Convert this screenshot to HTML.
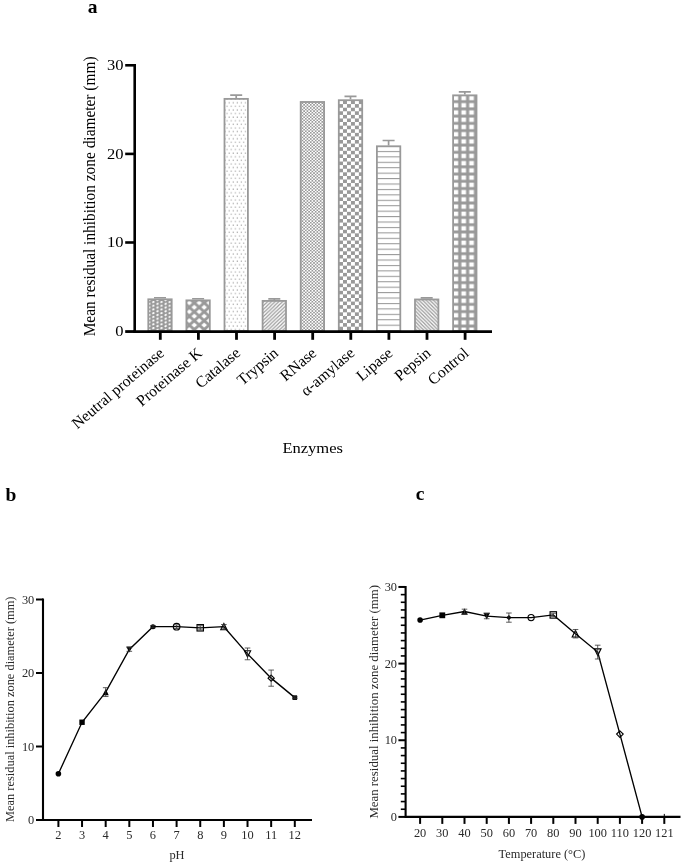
<!DOCTYPE html>
<html><head><meta charset="utf-8"><title>Figure</title>
<style>html,body{margin:0;padding:0;background:#fff;}svg{display:block;will-change:transform;opacity:0.9999;}text{font-family:"Liberation Serif",serif;}</style>
</head><body>
<svg width="685" height="865" viewBox="0 0 685 865">
<rect width="685" height="865" fill="#fff"/>
<defs>
<pattern id="p1" x="151.36" y="300.97" width="8.15" height="3.72" patternUnits="userSpaceOnUse"><rect width="8.15" height="3.72" fill="#999999"/><path d="M1.05 1.6 L3.0 0.35 M5.12 3.46 L7.07 2.21 M5.12 -0.26 L7.07 -1.51" stroke="#fff" stroke-width="1.75"/></pattern>
<pattern id="p2" x="189.35" y="307.3" width="9.9" height="8.9" patternUnits="userSpaceOnUse"><rect width="9.9" height="8.9" fill="#fff"/><path d="M-1 -0.9 L10.9 9.8 M10.9 -0.9 L-1 9.8" stroke="#999999" stroke-width="2.8"/></pattern>
<pattern id="p3" x="224.0" y="281.7" width="4.1" height="7.2" patternUnits="userSpaceOnUse"><rect width="4.1" height="7.2" fill="#fff"/><rect x="0.5" y="0.5" width="1.15" height="1.15" fill="#a2a2a2"/><rect x="2.55" y="4.1" width="1.15" height="1.15" fill="#a2a2a2"/></pattern>
<pattern id="p4" x="0.6" y="0" width="3.75" height="3.6" patternUnits="userSpaceOnUse"><rect width="3.75" height="3.6" fill="#fff"/><path d="M-3.75 3.6 L3.75 -3.6 M0 3.6 L3.75 0 L7.5 -3.6 M0 7.2 L7.5 0" stroke="#999999" stroke-width="1.15"/></pattern>
<pattern id="p5" x="300" y="101" width="3.3" height="3.1" patternUnits="userSpaceOnUse"><rect width="3.3" height="3.1" fill="#fff"/><rect width="1.65" height="1.55" fill="#999999"/><rect x="1.65" y="1.55" width="1.65" height="1.55" fill="#999999"/></pattern>
<pattern id="p6" x="343.0" y="107.7" width="7.94" height="7.18" patternUnits="userSpaceOnUse"><rect width="7.94" height="7.18" fill="#fff"/><rect width="3.97" height="3.59" fill="#999999"/><rect x="3.97" y="3.59" width="3.97" height="3.59" fill="#999999"/></pattern>
<pattern id="p7" x="0" y="330.1" width="4" height="5.43" patternUnits="userSpaceOnUse"><rect width="4" height="5.43" fill="#fff"/><rect y="0" width="4" height="1.05" fill="#999999"/></pattern>
<pattern id="p8" x="0" y="0" width="3.6" height="3.6" patternUnits="userSpaceOnUse"><rect width="3.6" height="3.6" fill="#fff"/><path d="M-3.6 -3.6 L7.2 7.2 M0 -3.6 L7.2 3.6 M-3.6 0 L3.6 7.2" stroke="#999999" stroke-width="1.25"/></pattern>
<pattern id="p9" x="459.78" y="289.88" width="7.85" height="7.24" patternUnits="userSpaceOnUse"><rect width="7.85" height="7.24" fill="#999999"/><rect x="1.6" y="1.45" width="4.65" height="4.35" fill="#fff"/></pattern>
</defs>
<text transform="translate(87.80 12.80)" font-size="19.5" text-anchor="start" fill="#000" font-weight="bold">a</text>
<path d="M160.00 298.40 V297.77 M154.00 297.77 H166.00" stroke="#999999" stroke-width="1.7" fill="none"/>
<rect x="148.30" y="299.30" width="23.40" height="31.70" fill="url(#p1)" stroke="#999999" stroke-width="1.8"/>
<path d="M198.10 299.46 V298.75 M192.10 298.75 H204.10" stroke="#999999" stroke-width="1.7" fill="none"/>
<rect x="186.40" y="300.36" width="23.40" height="30.64" fill="url(#p2)" stroke="#999999" stroke-width="1.8"/>
<path d="M236.20 97.98 V95.06 M230.20 95.06 H242.20" stroke="#999999" stroke-width="1.7" fill="none"/>
<rect x="224.50" y="98.88" width="23.40" height="232.12" fill="url(#p3)" stroke="#999999" stroke-width="1.8"/>
<path d="M274.30 299.99 V298.93 M268.30 298.93 H280.30" stroke="#999999" stroke-width="1.7" fill="none"/>
<rect x="262.60" y="300.89" width="23.40" height="30.11" fill="url(#p4)" stroke="#999999" stroke-width="1.8"/>
<rect x="300.70" y="101.98" width="23.40" height="229.02" fill="url(#p5)" stroke="#999999" stroke-width="1.8"/>
<path d="M350.50 99.31 V96.39 M344.50 96.39 H356.50" stroke="#999999" stroke-width="1.7" fill="none"/>
<rect x="338.80" y="100.21" width="23.40" height="230.79" fill="url(#p6)" stroke="#999999" stroke-width="1.8"/>
<path d="M388.60 145.38 V140.51 M382.60 140.51 H394.60" stroke="#999999" stroke-width="1.7" fill="none"/>
<rect x="376.90" y="146.28" width="23.40" height="184.72" fill="url(#p7)" stroke="#999999" stroke-width="1.8"/>
<path d="M426.70 298.57 V297.86 M420.70 297.86 H432.70" stroke="#999999" stroke-width="1.7" fill="none"/>
<rect x="415.00" y="299.47" width="23.40" height="31.53" fill="url(#p8)" stroke="#999999" stroke-width="1.8"/>
<path d="M464.80 94.44 V91.78 M458.80 91.78 H470.80" stroke="#999999" stroke-width="1.7" fill="none"/>
<rect x="453.10" y="95.34" width="23.40" height="235.66" fill="url(#p9)" stroke="#999999" stroke-width="1.8"/>
<path d="M134.7 64.00 V332.60" stroke="#000" stroke-width="2.6" fill="none"/>
<path d="M133.39999999999998 331.55 H492" stroke="#000" stroke-width="2.8" fill="none"/>
<path d="M125.19999999999999 331.55 H134.7" stroke="#000" stroke-width="2.8"/>
<text transform="translate(123.40 336.00) scale(1.1 1.0)" font-size="15.0" text-anchor="end" fill="#000">0</text>
<path d="M125.19999999999999 242.50 H134.7" stroke="#000" stroke-width="2.6"/>
<text transform="translate(123.40 247.40) scale(1.1 1.0)" font-size="15.0" text-anchor="end" fill="#000">10</text>
<path d="M125.19999999999999 153.90 H134.7" stroke="#000" stroke-width="2.6"/>
<text transform="translate(123.40 158.80) scale(1.1 1.0)" font-size="15.0" text-anchor="end" fill="#000">20</text>
<path d="M125.19999999999999 65.30 H134.7" stroke="#000" stroke-width="2.6"/>
<text transform="translate(123.40 70.20) scale(1.1 1.0)" font-size="15.0" text-anchor="end" fill="#000">30</text>
<path d="M160.30 331.0 V339.8" stroke="#000" stroke-width="2.8"/>
<path d="M198.40 331.0 V339.8" stroke="#000" stroke-width="2.8"/>
<path d="M236.50 331.0 V339.8" stroke="#000" stroke-width="2.8"/>
<path d="M274.60 331.0 V339.8" stroke="#000" stroke-width="2.8"/>
<path d="M312.70 331.0 V339.8" stroke="#000" stroke-width="2.8"/>
<path d="M350.80 331.0 V339.8" stroke="#000" stroke-width="2.8"/>
<path d="M388.90 331.0 V339.8" stroke="#000" stroke-width="2.8"/>
<path d="M427.00 331.0 V339.8" stroke="#000" stroke-width="2.8"/>
<path d="M465.10 331.0 V339.8" stroke="#000" stroke-width="2.8"/>
<text transform="translate(165.00 354.60) rotate(-40.5)" font-size="15.7" text-anchor="end" fill="#000">Neutral proteinase</text>
<text transform="translate(203.10 354.60) rotate(-40.5)" font-size="15.7" text-anchor="end" fill="#000">Proteinase K</text>
<text transform="translate(241.20 354.60) rotate(-40.5)" font-size="15.7" text-anchor="end" fill="#000">Catalase</text>
<text transform="translate(279.30 354.60) rotate(-40.5)" font-size="15.7" text-anchor="end" fill="#000">Trypsin</text>
<text transform="translate(317.40 354.60) rotate(-40.5)" font-size="15.7" text-anchor="end" fill="#000">RNase</text>
<text transform="translate(355.50 354.60) rotate(-40.5)" font-size="15.7" text-anchor="end" fill="#000">α-amylase</text>
<text transform="translate(393.60 354.60) rotate(-40.5)" font-size="15.7" text-anchor="end" fill="#000">Lipase</text>
<text transform="translate(431.70 354.60) rotate(-40.5)" font-size="15.7" text-anchor="end" fill="#000">Pepsin</text>
<text transform="translate(469.80 354.60) rotate(-40.5)" font-size="15.7" text-anchor="end" fill="#000">Control</text>
<text transform="translate(94.80 196.40) scale(1.1 1.0) rotate(-90)" font-size="15.4" text-anchor="middle" fill="#000">Mean residual inhibition zone diameter (mm)</text>
<text transform="translate(312.70 453.30) scale(1.09 1.0)" font-size="15.2" text-anchor="middle" fill="#000">Enzymes</text>
<text transform="translate(5.40 500.80)" font-size="19.5" text-anchor="start" fill="#000" font-weight="bold">b</text>
<path d="M43.0 598.50 V821.00 M42.0 820.0 H312" stroke="#000" stroke-width="2.1" fill="none"/>
<path d="M36.0 820.00 H43.0" stroke="#000" stroke-width="2.0"/>
<text x="34.3" y="824.00" font-size="12.4" text-anchor="end" fill="#2a2a2a">0</text>
<path d="M36.0 746.50 H43.0" stroke="#000" stroke-width="2.0"/>
<text x="34.3" y="750.50" font-size="12.4" text-anchor="end" fill="#2a2a2a">10</text>
<path d="M36.0 673.00 H43.0" stroke="#000" stroke-width="2.0"/>
<text x="34.3" y="677.00" font-size="12.4" text-anchor="end" fill="#2a2a2a">20</text>
<path d="M36.0 599.50 H43.0" stroke="#000" stroke-width="2.0"/>
<text x="34.3" y="603.50" font-size="12.4" text-anchor="end" fill="#2a2a2a">30</text>
<path d="M58.40 820.0 V827.0" stroke="#000" stroke-width="2.0"/>
<text x="58.40" y="839.1" font-size="12.4" text-anchor="middle" fill="#2a2a2a">2</text>
<path d="M82.04 820.0 V827.0" stroke="#000" stroke-width="2.0"/>
<text x="82.04" y="839.1" font-size="12.4" text-anchor="middle" fill="#2a2a2a">3</text>
<path d="M105.68 820.0 V827.0" stroke="#000" stroke-width="2.0"/>
<text x="105.68" y="839.1" font-size="12.4" text-anchor="middle" fill="#2a2a2a">4</text>
<path d="M129.32 820.0 V827.0" stroke="#000" stroke-width="2.0"/>
<text x="129.32" y="839.1" font-size="12.4" text-anchor="middle" fill="#2a2a2a">5</text>
<path d="M152.96 820.0 V827.0" stroke="#000" stroke-width="2.0"/>
<text x="152.96" y="839.1" font-size="12.4" text-anchor="middle" fill="#2a2a2a">6</text>
<path d="M176.60 820.0 V827.0" stroke="#000" stroke-width="2.0"/>
<text x="176.60" y="839.1" font-size="12.4" text-anchor="middle" fill="#2a2a2a">7</text>
<path d="M200.24 820.0 V827.0" stroke="#000" stroke-width="2.0"/>
<text x="200.24" y="839.1" font-size="12.4" text-anchor="middle" fill="#2a2a2a">8</text>
<path d="M223.88 820.0 V827.0" stroke="#000" stroke-width="2.0"/>
<text x="223.88" y="839.1" font-size="12.4" text-anchor="middle" fill="#2a2a2a">9</text>
<path d="M247.52 820.0 V827.0" stroke="#000" stroke-width="2.0"/>
<text x="247.52" y="839.1" font-size="12.4" text-anchor="middle" fill="#2a2a2a">10</text>
<path d="M271.16 820.0 V827.0" stroke="#000" stroke-width="2.0"/>
<text x="271.16" y="839.1" font-size="12.4" text-anchor="middle" fill="#2a2a2a">11</text>
<path d="M294.80 820.0 V827.0" stroke="#000" stroke-width="2.0"/>
<text x="294.80" y="839.1" font-size="12.4" text-anchor="middle" fill="#2a2a2a">12</text>
<text transform="translate(14.3 709.25) rotate(-90)" font-size="12.4" text-anchor="middle" fill="#2a2a2a">Mean residual inhibition zone diameter (mm)</text>
<text x="177" y="859.2" font-size="12.4" text-anchor="middle" fill="#2a2a2a">pH</text>
<polyline points="58.40,773.70 82.04,722.25 105.68,692.11 129.32,649.48 152.96,626.69 176.60,626.69 200.24,627.80 223.88,626.69 247.52,653.89 271.16,678.14 294.80,697.62" fill="none" stroke="#000" stroke-width="1.35"/>
<circle cx="58.40" cy="773.70" r="2.80" fill="#000"/>
<rect x="79.34" y="719.54" width="5.40" height="5.40" fill="#000"/>
<path d="M105.68 689.01 L108.78 695.21 H102.58 Z" fill="#000"/>
<path d="M105.68 687.70 V696.52 M102.88 687.70 H108.48 M102.88 696.52 H108.48" stroke="#333" stroke-width="0.8" fill="none"/>
<path d="M129.32 652.58 L132.42 646.38 H126.22 Z" fill="#000"/>
<path d="M129.32 647.64 V651.32 M126.52 647.64 H132.12 M126.52 651.32 H132.12" stroke="#333" stroke-width="0.8" fill="none"/>
<circle cx="152.96" cy="626.69" r="2.5" fill="#000"/>
<path d="M152.96 625.59 V627.80 M150.16 625.59 H155.76 M150.16 627.80 H155.76" stroke="#333" stroke-width="0.8" fill="none"/>
<circle cx="176.60" cy="626.69" r="3.30" fill="none" stroke="#000" stroke-width="1.15"/>
<path d="M176.60 624.86 V628.53 M173.80 624.86 H179.40 M173.80 628.53 H179.40" stroke="#333" stroke-width="0.8" fill="none"/>
<rect x="197.04" y="624.60" width="6.40" height="6.40" fill="none" stroke="#000" stroke-width="1.15"/>
<path d="M200.24 625.74 V629.86 M197.44 625.74 H203.04 M197.44 629.86 H203.04" stroke="#333" stroke-width="0.8" fill="none"/>
<path d="M223.88 623.59 L226.98 629.79 H220.78 Z" fill="none" stroke="#000" stroke-width="1.15"/>
<path d="M223.88 624.49 V628.90 M221.08 624.49 H226.68 M221.08 628.90 H226.68" stroke="#333" stroke-width="0.8" fill="none"/>
<path d="M247.52 656.99 L250.62 650.79 H244.42 Z" fill="none" stroke="#000" stroke-width="1.15"/>
<path d="M247.52 648.01 V659.77 M244.72 648.01 H250.32 M244.72 659.77 H250.32" stroke="#333" stroke-width="0.8" fill="none"/>
<path d="M271.16 675.04 L274.26 678.14 L271.16 681.25 L268.06 678.14 Z" fill="none" stroke="#000" stroke-width="1.15"/>
<path d="M271.16 670.06 V686.23 M268.36 670.06 H273.96 M268.36 686.23 H273.96" stroke="#333" stroke-width="0.8" fill="none"/>
<rect x="292.50" y="695.32" width="4.6" height="4.6" fill="#000"/>
<path d="M294.80 696.89 V698.36 M292.00 696.89 H297.60 M292.00 698.36 H297.60" stroke="#333" stroke-width="0.8" fill="none"/>
<text transform="translate(415.80 500.20)" font-size="19.5" text-anchor="start" fill="#000" font-weight="bold">c</text>
<path d="M405.6 585.95 V817.90 M404.6 816.9 H680.5" stroke="#000" stroke-width="2.1" fill="none"/>
<path d="M398.40000000000003 816.90 H405.6" stroke="#000" stroke-width="2.0"/>
<text transform="translate(397.00 821.10) scale(0.96 1.0)" font-size="12.9" text-anchor="end" fill="#2a2a2a">0</text>
<path d="M400.8 809.24 H405.6" stroke="#000" stroke-width="1.6"/>
<path d="M400.8 801.57 H405.6" stroke="#000" stroke-width="1.6"/>
<path d="M400.8 793.90 H405.6" stroke="#000" stroke-width="1.6"/>
<path d="M400.8 786.24 H405.6" stroke="#000" stroke-width="1.6"/>
<path d="M400.8 778.57 H405.6" stroke="#000" stroke-width="1.6"/>
<path d="M400.8 770.91 H405.6" stroke="#000" stroke-width="1.6"/>
<path d="M400.8 763.25 H405.6" stroke="#000" stroke-width="1.6"/>
<path d="M400.8 755.58 H405.6" stroke="#000" stroke-width="1.6"/>
<path d="M400.8 747.91 H405.6" stroke="#000" stroke-width="1.6"/>
<path d="M398.40000000000003 740.25 H405.6" stroke="#000" stroke-width="2.0"/>
<text transform="translate(397.00 744.45) scale(0.96 1.0)" font-size="12.9" text-anchor="end" fill="#2a2a2a">10</text>
<path d="M400.8 732.59 H405.6" stroke="#000" stroke-width="1.6"/>
<path d="M400.8 724.92 H405.6" stroke="#000" stroke-width="1.6"/>
<path d="M400.8 717.25 H405.6" stroke="#000" stroke-width="1.6"/>
<path d="M400.8 709.59 H405.6" stroke="#000" stroke-width="1.6"/>
<path d="M400.8 701.92 H405.6" stroke="#000" stroke-width="1.6"/>
<path d="M400.8 694.26 H405.6" stroke="#000" stroke-width="1.6"/>
<path d="M400.8 686.60 H405.6" stroke="#000" stroke-width="1.6"/>
<path d="M400.8 678.93 H405.6" stroke="#000" stroke-width="1.6"/>
<path d="M400.8 671.26 H405.6" stroke="#000" stroke-width="1.6"/>
<path d="M398.40000000000003 663.60 H405.6" stroke="#000" stroke-width="2.0"/>
<text transform="translate(397.00 667.80) scale(0.96 1.0)" font-size="12.9" text-anchor="end" fill="#2a2a2a">20</text>
<path d="M400.8 655.93 H405.6" stroke="#000" stroke-width="1.6"/>
<path d="M400.8 648.27 H405.6" stroke="#000" stroke-width="1.6"/>
<path d="M400.8 640.61 H405.6" stroke="#000" stroke-width="1.6"/>
<path d="M400.8 632.94 H405.6" stroke="#000" stroke-width="1.6"/>
<path d="M400.8 625.27 H405.6" stroke="#000" stroke-width="1.6"/>
<path d="M400.8 617.61 H405.6" stroke="#000" stroke-width="1.6"/>
<path d="M400.8 609.94 H405.6" stroke="#000" stroke-width="1.6"/>
<path d="M400.8 602.28 H405.6" stroke="#000" stroke-width="1.6"/>
<path d="M400.8 594.62 H405.6" stroke="#000" stroke-width="1.6"/>
<path d="M398.40000000000003 586.95 H405.6" stroke="#000" stroke-width="2.0"/>
<text transform="translate(397.00 591.15) scale(0.96 1.0)" font-size="12.9" text-anchor="end" fill="#2a2a2a">30</text>
<path d="M420.10 816.9 V823.9" stroke="#000" stroke-width="2.0"/>
<text transform="translate(420.10 836.80) scale(0.96 1.0)" font-size="12.9" text-anchor="middle" fill="#2a2a2a">20</text>
<path d="M442.30 816.9 V823.9" stroke="#000" stroke-width="2.0"/>
<text transform="translate(442.30 836.80) scale(0.96 1.0)" font-size="12.9" text-anchor="middle" fill="#2a2a2a">30</text>
<path d="M464.50 816.9 V823.9" stroke="#000" stroke-width="2.0"/>
<text transform="translate(464.50 836.80) scale(0.96 1.0)" font-size="12.9" text-anchor="middle" fill="#2a2a2a">40</text>
<path d="M486.70 816.9 V823.9" stroke="#000" stroke-width="2.0"/>
<text transform="translate(486.70 836.80) scale(0.96 1.0)" font-size="12.9" text-anchor="middle" fill="#2a2a2a">50</text>
<path d="M508.90 816.9 V823.9" stroke="#000" stroke-width="2.0"/>
<text transform="translate(508.90 836.80) scale(0.96 1.0)" font-size="12.9" text-anchor="middle" fill="#2a2a2a">60</text>
<path d="M531.10 816.9 V823.9" stroke="#000" stroke-width="2.0"/>
<text transform="translate(531.10 836.80) scale(0.96 1.0)" font-size="12.9" text-anchor="middle" fill="#2a2a2a">70</text>
<path d="M553.30 816.9 V823.9" stroke="#000" stroke-width="2.0"/>
<text transform="translate(553.30 836.80) scale(0.96 1.0)" font-size="12.9" text-anchor="middle" fill="#2a2a2a">80</text>
<path d="M575.50 816.9 V823.9" stroke="#000" stroke-width="2.0"/>
<text transform="translate(575.50 836.80) scale(0.96 1.0)" font-size="12.9" text-anchor="middle" fill="#2a2a2a">90</text>
<path d="M597.70 816.9 V823.9" stroke="#000" stroke-width="2.0"/>
<text transform="translate(597.70 836.80) scale(0.96 1.0)" font-size="12.9" text-anchor="middle" fill="#2a2a2a">100</text>
<path d="M619.90 816.9 V823.9" stroke="#000" stroke-width="2.0"/>
<text transform="translate(619.90 836.80) scale(0.96 1.0)" font-size="12.9" text-anchor="middle" fill="#2a2a2a">110</text>
<path d="M642.10 816.9 V823.9" stroke="#000" stroke-width="2.0"/>
<text transform="translate(642.10 836.80) scale(0.96 1.0)" font-size="12.9" text-anchor="middle" fill="#2a2a2a">120</text>
<path d="M664.30 816.9 V823.9" stroke="#000" stroke-width="2.0"/>
<text transform="translate(664.30 836.80) scale(0.96 1.0)" font-size="12.9" text-anchor="middle" fill="#2a2a2a">121</text>
<text transform="translate(378.20 701.80) rotate(-90)" font-size="12.85" text-anchor="middle" fill="#2a2a2a">Mean residual inhibition zone diameter (mm)</text>
<text transform="translate(542.00 858.20) scale(0.96 1.0)" font-size="12.9" text-anchor="middle" fill="#2a2a2a">Temperature (°C)</text>
<polyline points="420.10,620.06 442.30,615.31 464.50,611.48 486.70,616.08 508.90,617.61 531.10,617.61 553.30,614.93 575.50,633.71 597.70,652.10 619.90,734.12 642.10,816.90" fill="none" stroke="#000" stroke-width="1.35"/>
<circle cx="420.10" cy="620.06" r="2.80" fill="#000"/>
<rect x="439.40" y="612.41" width="5.80" height="5.80" fill="#000"/>
<path d="M464.50 608.18 L467.80 614.78 H461.20 Z" fill="#000"/>
<path d="M464.50 609.18 V613.78 M461.70 609.18 H467.30 M461.70 613.78 H467.30" stroke="#333" stroke-width="0.8" fill="none"/>
<path d="M486.70 619.38 L490.00 612.78 H483.40 Z" fill="#000"/>
<path d="M486.70 613.39 V618.76 M483.90 613.39 H489.50 M483.90 618.76 H489.50" stroke="#333" stroke-width="0.8" fill="none"/>
<path d="M508.90 615.01 L511.50 617.61 L508.90 620.21 L506.30 617.61 Z" fill="#000"/>
<path d="M508.90 613.01 V622.21 M506.10 613.01 H511.70 M506.10 622.21 H511.70" stroke="#333" stroke-width="0.8" fill="none"/>
<circle cx="531.10" cy="617.61" r="3.10" fill="none" stroke="#000" stroke-width="1.15"/>
<rect x="550.10" y="611.73" width="6.40" height="6.40" fill="none" stroke="#000" stroke-width="1.15"/>
<path d="M553.30 613.24 V616.61 M550.50 613.24 H556.10 M550.50 616.61 H556.10" stroke="#333" stroke-width="0.8" fill="none"/>
<path d="M575.50 630.41 L578.80 637.01 H572.20 Z" fill="none" stroke="#000" stroke-width="1.15"/>
<path d="M575.50 629.49 V637.92 M572.70 629.49 H578.30 M572.70 637.92 H578.30" stroke="#333" stroke-width="0.8" fill="none"/>
<path d="M597.70 655.40 L601.00 648.80 H594.40 Z" fill="none" stroke="#000" stroke-width="1.15"/>
<path d="M597.70 645.20 V659.00 M594.90 645.20 H600.50 M594.90 659.00 H600.50" stroke="#333" stroke-width="0.8" fill="none"/>
<path d="M619.90 730.82 L623.20 734.12 L619.90 737.42 L616.60 734.12 Z" fill="none" stroke="#000" stroke-width="1.15"/>
<circle cx="642.10" cy="816.90" r="2.80" fill="#000"/>
<path d="M664.30 813.9 V816.9" stroke="#000" stroke-width="1"/>
</svg></body></html>
